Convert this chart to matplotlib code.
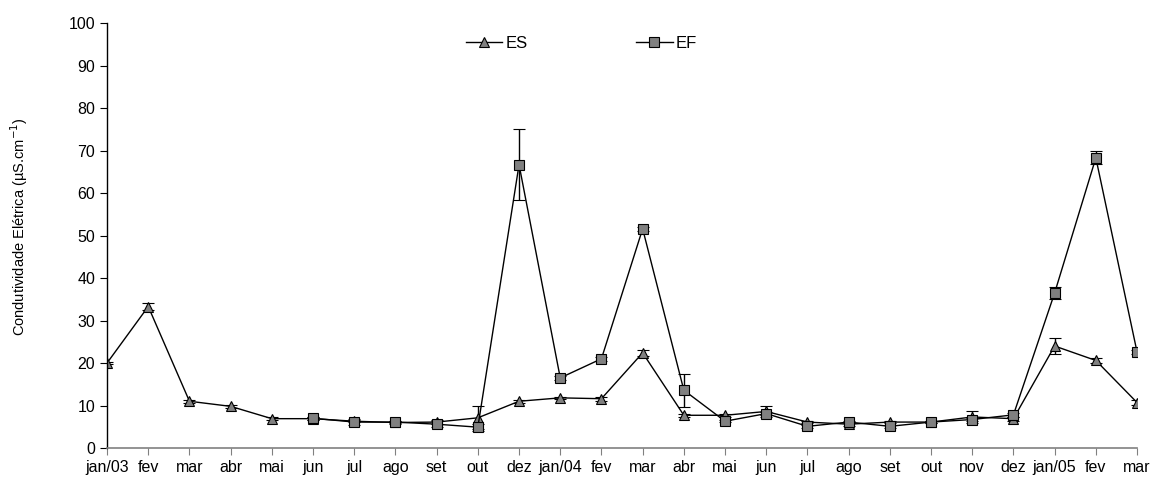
import numpy as np
import matplotlib.pyplot as plt

plt.rcParams['font.family'] = ['Liberation Sans', 'DejaVu Sans']

# meses de coleta (nao houve coleta em nov/03)
meses = ['jan/03', 'fev', 'mar', 'abr', 'mai', 'jun', 'jul', 'ago', 'set', 'out',
         'dez', 'jan/04', 'fev', 'mar', 'abr', 'mai', 'jun', 'jul', 'ago', 'set',
         'out', 'nov', 'dez', 'jan/05', 'fev', 'mar']

es = [20.0, 33.3, 11.0, 9.8, 6.9, 6.9, 6.3, 6.0, 6.1, 7.1, 11.0, 11.8, 11.6,
      22.4, 7.7, 7.7, 8.6, 6.1, 5.6, 6.1, 6.1, 7.3, 6.9, 24.0, 20.6, 10.7]
es_err = [0.3, 0.8, 0.3, 0.3, 0.3, 0.3, 0.3, 0.3, 0.5, 2.7, 0.3, 0.3, 0.5,
          0.7, 0.3, 0.3, 1.2, 0.3, 0.5, 0.3, 0.3, 1.4, 0.5, 1.9, 0.5, 0.5]

nan = np.nan
ef = [nan, nan, nan, nan, nan, 7.0, 6.1, 6.1, 5.6, 4.9, 66.7, 16.5, 21.0,
      51.6, 13.6, 6.3, 8.1, 5.1, 6.1, 5.1, 6.1, 6.7, 7.8, 36.5, 68.3, 22.6]
ef_err = [nan, nan, nan, nan, nan, 0.3, 0.8, 0.3, 0.7, 0.8, 8.4, 0.5, 0.5,
          0.5, 3.9, 0.3, 0.3, 0.3, 0.3, 0.3, 0.3, 0.3, 0.5, 1.5, 1.5, 0.5]

x = np.arange(len(meses))

fig = plt.figure(figsize=(11.56, 4.8), dpi=100)
ax = fig.add_axes([0.0926, 0.0667, 0.891, 0.885])

ax.errorbar(x, es, yerr=es_err, color='black', lw=1, marker='^', ms=7.5,
            mfc='#808080', mec='black', mew=0.8, capsize=4, elinewidth=1,
            ecolor='black', label='ES')
ax.errorbar(x, ef, yerr=ef_err, color='black', lw=1, marker='s', ms=6.5,
            mfc='#808080', mec='black', mew=0.8, capsize=4, elinewidth=1,
            ecolor='black', label='EF')

ax.set_xlim(0, len(meses) - 1)
ax.set_ylim(0, 100)
ax.set_yticks(range(0, 101, 10))
ax.set_xticks(x)
ax.set_xticklabels(meses)
ax.tick_params(labelsize=11.5, length=5, width=0.8, direction='out')
ax.tick_params(axis='x', colors='#808080', labelcolor='black', pad=4)

ax.spines['top'].set_visible(False)
ax.spines['right'].set_visible(False)
ax.spines['bottom'].set_color('#808080')
ax.spines['bottom'].set_linewidth(1.2)
ax.spines['left'].set_linewidth(1)

ax.set_ylabel('Condutividade Elétrica (µS.cm$^{-1}$)', fontsize=10.5)
ax.yaxis.set_label_coords(-0.075, 0.52)

handles, labels = ax.get_legend_handles_labels()
handles = [h[0] for h in handles]
ax.legend(handles, labels, loc='center', bbox_to_anchor=(0.503, 0.91),
          bbox_transform=fig.transFigure, ncol=2, frameon=False,
          fontsize=12, handlelength=2.2, handletextpad=0.2, columnspacing=6.5)

fig.savefig('out.png', dpi=100)
